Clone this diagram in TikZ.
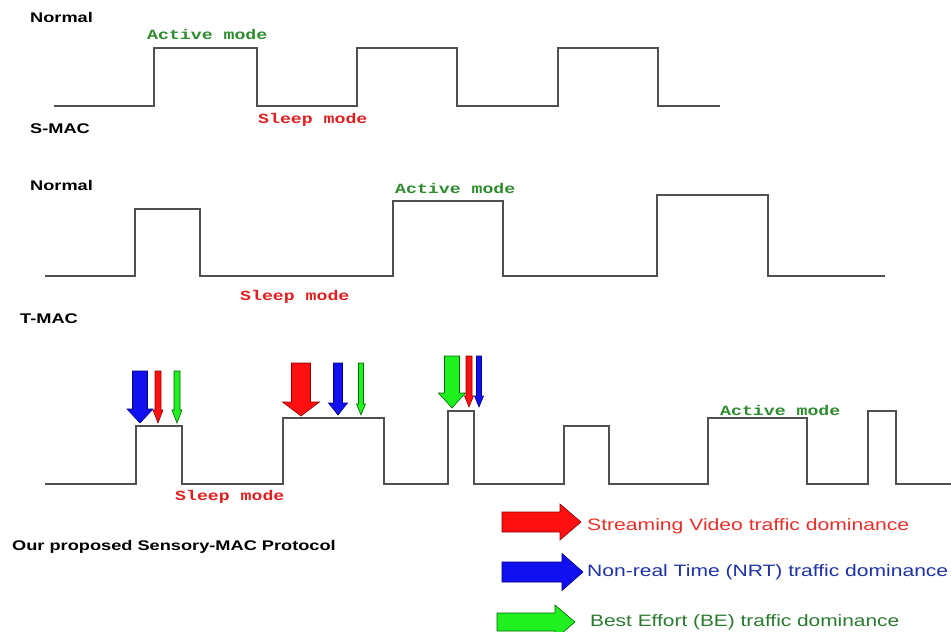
\documentclass[tikz,border=0pt]{standalone}
\usepackage{fontspec}
\setmainfont{Liberation Sans}
\newfontfamily\monofont{Liberation Mono}
\definecolor{wave}{HTML}{505050}
\definecolor{actgreen}{HTML}{2E8B2E}
\definecolor{sleepred}{HTML}{E02020}
\definecolor{svred}{HTML}{E8302A}
\definecolor{nrtblue}{HTML}{1E32A8}
\definecolor{begreen}{HTML}{2A7A30}
\definecolor{fillred}{HTML}{FF1010}
\definecolor{fillblue}{HTML}{1010F0}
\definecolor{fillgreen}{HTML}{20F020}
% downward arrow: style, centre x, top y, tip y, head base y, shaft half width, head half width
\newcommand{\darr}[7]{%
  \filldraw[#1] (#2-#6,#3) -- (#2+#6,#3) -- (#2+#6,#5) -- (#2+#7,#5) -- (#2,#4)
    -- (#2-#7,#5) -- (#2-#6,#5) -- cycle;}
% rightward arrow: style, left x, tip x, head base x, centre y, shaft half height, head half height
\newcommand{\rarr}[7]{%
  \filldraw[#1] (#2,#5-#6) -- (#4,#5-#6) -- (#4,#5-#7) -- (#3,#5) -- (#4,#5+#7)
    -- (#4,#5+#6) -- (#2,#5+#6) -- cycle;}
\newcommand{\wide}[1]{\scalebox{1.3}[1]{#1}}
\newcommand{\fitw}[2]{\resizebox{#1}{\height}{#2}}
\tikzset{
  wavepath/.style={draw=wave, line width=1.5pt, line join=miter},
  lbl/.style={anchor=west, inner sep=0pt, font=\fontsize{14}{16}\selectfont\bfseries},
  modelbl/.style={anchor=west, inner sep=0pt, font=\monofont\fontsize{14}{16}\selectfont\bfseries},
  legendlbl/.style={anchor=west, inner sep=0pt, font=\fontsize{16.5}{18}\selectfont},
  redarr/.style={fill=fillred, draw=red!55!black, line width=0.6pt},
  bluearr/.style={fill=fillblue, draw=blue!50!black, line width=0.6pt},
  greenarr/.style={fill=fillgreen, draw=green!40!black, line width=0.6pt},
}
\begin{document}
\begin{tikzpicture}[x=1pt, y=-1pt]
\useasboundingbox[fill=white] (0,0) rectangle (951,632);
\clip (0,0) rectangle (951,632);

% S-MAC duty cycle
\draw[wavepath] (54,106) -- (154,106) -- (154,48) -- (257,48) -- (257,106) -- (357,106)
  -- (357,48) -- (457,48) -- (457,106) -- (558,106) -- (558,48) -- (658,48) -- (658,106) -- (720,106);
\node[lbl] (n1) at (30,17) {\wide{Normal}};
\node[modelbl, text=actgreen] (a1) at (147,34) {\wide{Active mode}};
\node[modelbl, text=sleepred] (s1) at (258,120) {\wide{Sleep mode}};
\node[lbl] (smac) at (30,129) {\wide{S-MAC}};

% T-MAC duty cycle
\draw[wavepath] (45,276) -- (135,276) -- (135,209) -- (200,209) -- (200,276) -- (393,276)
  -- (393,201) -- (503,201) -- (503,276) -- (657,276) -- (657,195) -- (768,195) -- (768,276) -- (885,276);
\node[lbl] (n2) at (30,185) {\wide{Normal}};
\node[modelbl, text=actgreen] (a2) at (395,188) {\wide{Active mode}};
\node[modelbl, text=sleepred] (s2) at (240,297) {\wide{Sleep mode}};
\node[lbl] (tmac) at (20,319) {\wide{T-MAC}};

% Sensory-MAC duty cycle
\draw[wavepath] (45,484) -- (136,484) -- (136,426) -- (182,426) -- (182,484) -- (283,484)
  -- (283,418) -- (384,418) -- (384,484) -- (448,484) -- (448,411) -- (474,411) -- (474,484)
  -- (564,484) -- (564,426) -- (609,426) -- (609,484) -- (708,484) -- (708,418) -- (807,418)
  -- (807,484) -- (868,484) -- (868,411) -- (896,411) -- (896,484) -- (951,484);
\node[modelbl, text=actgreen] (a3) at (720,410) {\wide{Active mode}};
\node[modelbl, text=sleepred] (s3) at (175,497) {\wide{Sleep mode}};

% traffic arrivals
\darr{bluearr}{140}{371}{423}{409}{7.5}{13}
\darr{redarr}{158}{371}{423}{410}{3}{5}
\darr{greenarr}{177}{371}{423}{410}{3}{5}
\darr{redarr}{301}{363}{416}{402}{9.5}{18.5}
\darr{bluearr}{338}{363}{415}{403}{4.5}{9.5}
\darr{greenarr}{361}{363}{415}{404}{2.5}{4.5}
\darr{greenarr}{452}{356}{408}{393}{7.5}{13.5}
\darr{redarr}{469}{356}{407}{396}{3}{4.5}
\darr{bluearr}{479}{356}{407}{396}{2.5}{4.5}

\node[lbl] (smac3) at (12,547) {\wide{Our proposed Sensory-MAC Protocol}};

% legend
\rarr{redarr}{502}{581}{560}{522}{10}{18}
\node[legendlbl, text=svred] (l1) at (587,526) {\fitw{322pt}{Streaming Video traffic dominance}};
\rarr{bluearr}{502}{583}{562}{572}{10}{18.5}
\node[legendlbl, text=nrtblue] (l2) at (587,572) {\fitw{361pt}{Non-real Time (NRT) traffic dominance}};
\rarr{greenarr}{497}{575}{555}{622}{9}{17}
\node[legendlbl, text=begreen] (l3) at (590,622) {\fitw{309pt}{Best Effort (BE) traffic dominance}};
\end{tikzpicture}
\end{document}
